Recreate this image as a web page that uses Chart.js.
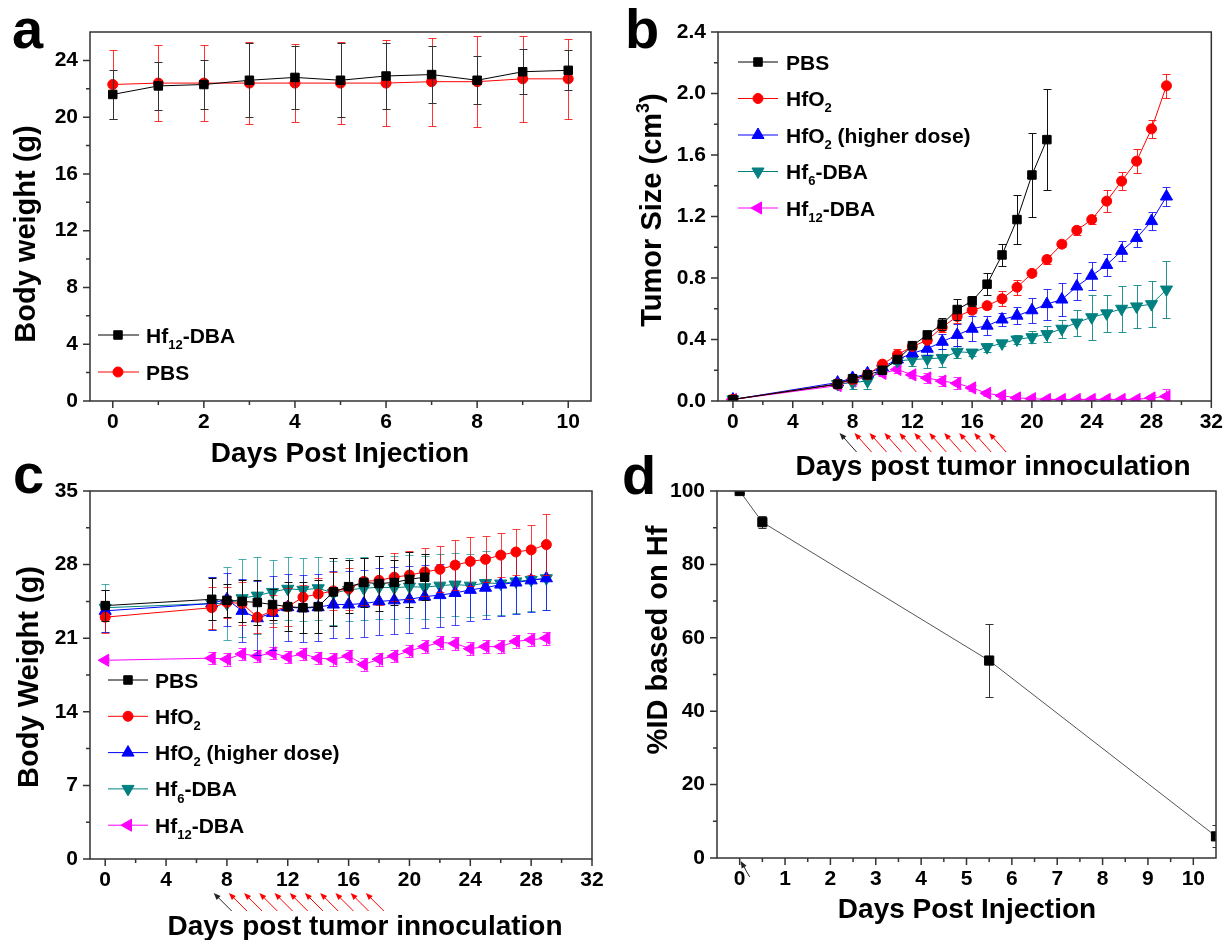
<!DOCTYPE html>
<html>
<head>
<meta charset="utf-8">
<script src="https://cdn.jsdelivr.net/npm/chart.js@4.4.1/dist/chart.umd.min.js"></script>
<style>
  body { margin: 0; background: #fff; }
  #page { position: relative; width: 1232px; height: 940px; overflow: hidden; background: #fff; }
  #page canvas { position: absolute; }
</style>
</head>
<body>
<div id="page">
  <canvas id="chartA" width="616" height="470" style="left:0;top:0"></canvas>
  <canvas id="chartB" width="616" height="485" style="left:616px;top:0"></canvas>
  <canvas id="chartC" width="616" height="485" style="left:0;top:455px"></canvas>
  <canvas id="chartD" width="616" height="485" style="left:616px;top:455px"></canvas>
</div>
<script>
// ---- panel a: body weight after injection
const daysA = [0, 1, 2, 3, 4, 5, 6, 7, 8, 9, 10];
const hf12WeightA = [21.6, 22.2, 22.3, 22.6, 22.8, 22.6, 22.9, 23.0, 22.6, 23.2, 23.3];
const hf12WeightErrA = [1.7, 1.7, 1.7, 2.6, 2.2, 2.6, 2.3, 2.0, 1.7, 1.6, 1.4];
const pbsWeightA = [22.3, 22.4, 22.4, 22.4, 22.4, 22.4, 22.4, 22.5, 22.5, 22.7, 22.7];
const pbsWeightErrA = [2.4, 2.7, 2.7, 2.9, 2.75, 2.9, 3.05, 3.1, 3.2, 3.05, 2.8];
const xTicksA = [0, 2, 4, 6, 8, 10];
const yTicksA = [0, 4, 8, 12, 16, 20, 24];

// ---- panels b and c: days after tumor inoculation
const daysPbs = [0, 7, 8, 9, 10, 11, 12, 13, 14, 15, 16, 17, 18, 19, 20, 21];
const daysTreated = [0, 7, 8, 9, 10, 11, 12, 13, 14, 15, 16, 17, 18, 19, 20, 21, 22, 23, 24, 25, 26, 27, 28, 29];
const imagingDays = [7];
const injectionDays = [8, 9, 10, 11, 12, 13, 14, 15, 16, 17];
const xTicksBC = [0, 4, 8, 12, 16, 20, 24, 28, 32];

// ---- panel b: tumor size (cm3)
const tumorPbs = [0.01, 0.11, 0.145, 0.17, 0.20, 0.27, 0.36, 0.43, 0.50, 0.595, 0.65, 0.76, 0.95, 1.18, 1.47, 1.70];
const tumorPbsErr = [0.01, 0.02, 0.02, 0.02, 0.02, 0.02, 0.02, 0.02, 0.04, 0.07, 0.03, 0.07, 0.07, 0.16, 0.27, 0.33];
const tumorHfO2 = [0.01, 0.11, 0.14, 0.17, 0.24, 0.30, 0.355, 0.395, 0.48, 0.55, 0.59, 0.62, 0.665, 0.74, 0.83, 0.92, 1.02, 1.11, 1.18, 1.30, 1.43, 1.56, 1.77, 2.05];
const tumorHfO2Err = [0.01, 0.02, 0.02, 0.02, 0.02, 0.04, 0.02, 0.02, 0.03, 0.04, 0.02, 0.02, 0.05, 0.05, 0.02, 0.03, 0.02, 0.03, 0.03, 0.07, 0.06, 0.08, 0.06, 0.08];
const tumorHfO2High = [0.01, 0.12, 0.15, 0.18, 0.22, 0.27, 0.31, 0.34, 0.385, 0.43, 0.47, 0.49, 0.53, 0.555, 0.59, 0.63, 0.66, 0.745, 0.815, 0.885, 0.977, 1.06, 1.17, 1.33];
const tumorHfO2HighErr = [0.01, 0.02, 0.02, 0.02, 0.02, 0.02, 0.02, 0.04, 0.05, 0.07, 0.08, 0.06, 0.04, 0.055, 0.08, 0.10, 0.11, 0.09, 0.09, 0.07, 0.065, 0.06, 0.06, 0.06];
const tumorHf6 = [0.01, 0.11, 0.12, 0.13, 0.21, 0.26, 0.27, 0.275, 0.28, 0.32, 0.315, 0.35, 0.375, 0.40, 0.415, 0.435, 0.47, 0.51, 0.545, 0.57, 0.60, 0.615, 0.63, 0.725];
const tumorHf6Err = [0.01, 0.02, 0.04, 0.05, 0.02, 0.02, 0.04, 0.06, 0.06, 0.04, 0.02, 0.03, 0.02, 0.03, 0.04, 0.05, 0.06, 0.085, 0.145, 0.12, 0.15, 0.14, 0.15, 0.185];
const tumorHf12 = [0.01, 0.10, 0.13, 0.16, 0.18, 0.205, 0.17, 0.15, 0.13, 0.115, 0.085, 0.05, 0.035, 0.02, 0.015, 0.01, 0.01, 0.01, 0.01, 0.01, 0.01, 0.01, 0.02, 0.03];
const tumorHf12Err = [0.01, 0.02, 0.02, 0.02, 0.02, 0.02, 0.02, 0.03, 0.03, 0.04, 0.02, 0.02, 0.02, 0.02, 0.01, 0.01, 0.01, 0.01, 0.01, 0.01, 0.01, 0.01, 0.02, 0.05];
const yTicksB = [0, 0.4, 0.8, 1.2, 1.6, 2.0, 2.4];

// ---- panel c: body weight (g)
const weightPbs = [24.1, 24.7, 24.6, 24.5, 24.4, 24.2, 24.0, 23.9, 24.0, 25.4, 25.9, 26.3, 26.2, 26.3, 26.6, 26.8];
const weightPbsErr = [1.5, 2.0, 1.6, 2.0, 2.1, 1.5, 2.3, 2.4, 2.5, 3.2, 2.5, 2.3, 2.6, 2.1, 2.6, 2.2];
const weightHfO2 = [23.0, 23.9, 24.4, 24.3, 23.0, 23.6, 24.0, 24.9, 25.2, 25.5, 25.7, 26.4, 26.5, 26.8, 27.0, 27.3, 27.55, 27.95, 28.3, 28.5, 28.9, 29.2, 29.4, 29.9];
const weightHfO2Err = [1.5, 2.0, 1.5, 2.0, 1.5, 1.5, 1.8, 1.2, 1.5, 1.8, 2.0, 2.2, 2.3, 2.3, 2.3, 2.3, 2.2, 2.35, 2.3, 2.2, 2.1, 2.2, 2.4, 2.9];
const weightHfO2High = [23.6, 24.3, 24.7, 23.6, 22.9, 23.4, 23.95, 23.85, 23.95, 24.2, 24.2, 24.3, 24.5, 24.6, 24.7, 24.95, 25.1, 25.3, 25.6, 25.8, 26.1, 26.3, 26.5, 26.7];
const weightHfO2HighErr = [2.0, 2.5, 2.5, 3.0, 3.5, 3.5, 3.2, 3.2, 3.2, 3.2, 3.2, 3.2, 3.2, 3.2, 3.2, 3.0, 3.0, 3.0, 3.0, 3.0, 3.0, 3.0, 3.0, 3.0];
const weightHf6 = [23.9, 24.3, 24.3, 24.8, 25.05, 25.4, 25.7, 25.6, 25.75, 25.3, 25.6, 25.75, 25.85, 25.8, 25.9, 25.85, 26.0, 26.1, 26.0, 26.25, 26.2, 26.4, 26.55, 26.7];
const weightHf6Err = [2.3, 2.5, 3.5, 3.7, 3.65, 3.0, 3.0, 3.0, 3.0, 3.0, 3.0, 3.0, 3.0, 3.0, 3.0, 3.0, 3.0, 3.0, 3.0, 3.0, 3.0, 3.0, 3.0, 3.0];
const weightHf12 = [18.9, 19.1, 19.0, 19.5, 19.3, 19.6, 19.2, 19.5, 19.1, 19.0, 19.3, 18.5, 19.0, 19.3, 19.8, 20.2, 20.6, 20.5, 20.0, 20.2, 20.2, 20.7, 20.85, 21.0];
const weightHf12Err = [0.2, 0.6, 0.6, 0.6, 0.6, 0.6, 0.6, 0.6, 0.6, 0.6, 0.6, 0.6, 0.6, 0.6, 0.6, 0.6, 0.6, 0.6, 0.6, 0.6, 0.6, 0.6, 0.6, 0.6];
const yTicksC = [0, 7, 14, 21, 28, 35];

// ---- panel d: %ID based on Hf
const daysD = [0, 0.5, 5.5, 10.5];
const idHf = [100, 91.5, 53.8, 5.9];
const idHfErr = [0, 1.6, 10, 3];
const xTicksD = [0, 1, 2, 3, 4, 5, 6, 7, 8, 9, 10];
const yTicksD = [0, 20, 40, 60, 80, 100];

const FONT = '"Liberation Sans", Arial, Helvetica, sans-serif';
Chart.defaults.font.family = FONT;
Chart.defaults.font.weight = 'bold';
Chart.defaults.color = '#000';
Chart.defaults.animation = false;

const BLACK = '#000000', RED = '#ff0000', BLUE = '#0000ff', TEAL = '#008080', MAGENTA = '#ff00ff';
const TICK_SIZE = 21;

const mid = (a) => a.slice(0, -1).map((v, i) => (v + a[i + 1]) / 2);

function series(label, days, values, errors, color, errColor, style, rotation, radius) {
  return {
    label,
    data: days.map((d, i) => ({ x: d, y: values[i] })),
    errors, errorColor: errColor,
    borderColor: color, backgroundColor: color, borderWidth: 1,
    pointStyle: style, pointRotation: rotation, pointRadius: radius,
    pointBackgroundColor: color, pointBorderColor: color, pointBorderWidth: 1,
    tension: 0, fill: false
  };
}

const labPbs = ['PBS'];
const labHfO2 = ['HfO', ['2', 'sub']];
const labHfO2High = ['HfO', ['2', 'sub'], ' (higher dose)'];
const labHf6 = ['Hf', ['6', 'sub'], '-DBA'];
const labHf12 = ['Hf', ['12', 'sub'], '-DBA'];

const legendB = [
  { segs: labPbs, color: BLACK, style: 'rect', rot: 0, r: 6 },
  { segs: labHfO2, color: RED, style: 'circle', rot: 0, r: 5 },
  { segs: labHfO2High, color: BLUE, style: 'triangle', rot: 0, r: 7 },
  { segs: labHf6, color: TEAL, style: 'triangle', rot: 180, r: 7 },
  { segs: labHf12, color: MAGENTA, style: 'triangle', rot: -90, r: 7 }
];

// page coordinates of the decorations, per canvas
const decorCfg = {
  chartA: {
    ox: 0, oy: 0,
    letter: { t: 'a', x: 12, y: 48 },
    xTitle: { segs: ['Days Post Injection'], x: 340, y: 462, size: 28 },
    yTitle: { segs: ['Body weight (g)'], x: 35, y: 234, size: 29 },
    legend: { x0: 98, x1: 139, xm: 118, tx: 146, y0: 335, dy: 37, size: 21, items: [
      { segs: labHf12, color: BLACK, style: 'rect', rot: 0, r: 6 },
      { segs: labPbs, color: RED, style: 'circle', rot: 0, r: 5 }
    ] },
    xMajor: xTicksA, xMinor: mid(xTicksA), yMajor: yTicksA, yMinor: mid(yTicksA)
  },
  chartB: {
    ox: 616, oy: 0,
    letter: { t: 'b', x: 625, y: 48 },
    xTitle: { segs: ['Days post tumor innoculation'], x: 993, y: 475, size: 28 },
    yTitle: { segs: ['Tumor Size (cm', ['3', 'sup'], ')'], x: 661, y: 210, size: 29 },
    legend: { x0: 738, x1: 778, xm: 758, tx: 786, y0: 62, dy: 36.5, size: 21, items: legendB },
    arrows: { tipY: 433, dx: 17, dy: 19 },
    xMajor: xTicksBC, xMinor: mid(xTicksBC), yMajor: yTicksB, yMinor: mid(yTicksB)
  },
  chartC: {
    ox: 0, oy: 455,
    letter: { t: 'c', x: 13, y: 493 },
    xTitle: { segs: ['Days post tumor innoculation'], x: 365, y: 935, size: 28 },
    yTitle: { segs: ['Body Weight (g)'], x: 38, y: 677, size: 29 },
    legend: { x0: 108, x1: 148, xm: 128, tx: 155, y0: 680, dy: 36.3, size: 21, items: legendB },
    arrows: { tipY: 893, dx: 18, dy: 18 },
    xMajor: xTicksBC, xMinor: mid(xTicksBC), yMajor: yTicksC, yMinor: mid(yTicksC)
  },
  chartD: {
    ox: 616, oy: 455,
    letter: { t: 'd', x: 622, y: 494 },
    xTitle: { segs: ['Days Post Injection'], x: 967, y: 918, size: 28 },
    yTitle: { segs: ['%ID based on Hf'], x: 667, y: 640, size: 29 },
    pointer: { day: 0, tipY: 861, dx: 9, dy: 16 },
    xMajor: xTicksD, xMinor: mid(xTicksD), yMajor: yTicksD, yMinor: mid(yTicksD)
  }
};

function font(size) { return 'bold ' + size + 'px ' + FONT; }
function seg(s) { return typeof s === 'string' ? [s, ''] : s; }
function richWidth(ctx, segs, size) {
  let w = 0;
  segs.forEach(s => { const [t, k] = seg(s); ctx.font = font(k ? size * 0.62 : size); w += ctx.measureText(t).width; });
  return w;
}
function drawRich(ctx, segs, x, y, size) {
  let cx = x;
  segs.forEach(s => {
    const [t, k] = seg(s);
    const dy = k === 'sub' ? size * 0.3 : k === 'sup' ? -size * 0.42 : 0;
    ctx.font = font(k ? size * 0.62 : size);
    ctx.fillText(t, cx, y + dy);
    cx += ctx.measureText(t).width;
  });
}
function arrow(ctx, tx, ty, fx, fy, color) {
  const ang = Math.atan2(ty - fy, tx - fx);
  ctx.strokeStyle = color; ctx.fillStyle = color; ctx.lineWidth = 1;
  ctx.beginPath(); ctx.moveTo(fx, fy); ctx.lineTo(tx - 4 * Math.cos(ang), ty - 4 * Math.sin(ang)); ctx.stroke();
  ctx.beginPath();
  ctx.moveTo(tx, ty);
  ctx.lineTo(tx - 7 * Math.cos(ang) + 2.8 * Math.sin(ang), ty - 7 * Math.sin(ang) - 2.8 * Math.cos(ang));
  ctx.lineTo(tx - 7 * Math.cos(ang) - 2.8 * Math.sin(ang), ty - 7 * Math.sin(ang) + 2.8 * Math.cos(ang));
  ctx.closePath(); ctx.fill();
}

const decorPlugin = {
  id: 'decor',
  beforeDatasetDraw(chart, args) {
    const ds = chart.data.datasets[args.index];
    if (!ds.errors) return;
    const { ctx, chartArea: a } = chart;
    const xs = chart.scales.x, ys = chart.scales.y;
    ctx.save();
    ctx.beginPath(); ctx.rect(a.left, a.top, a.right - a.left, a.bottom - a.top); ctx.clip();
    ctx.strokeStyle = ds.errorColor; ctx.lineWidth = 1;
    ds.data.forEach((p, i) => {
      const e = ds.errors[i];
      if (!e) return;
      const px = Math.round(xs.getPixelForValue(p.x)) + 0.5;
      const top = Math.round(ys.getPixelForValue(p.y + e)) + 0.5;
      const bot = Math.round(ys.getPixelForValue(p.y - e)) + 0.5;
      ctx.beginPath();
      ctx.moveTo(px, top); ctx.lineTo(px, bot);
      ctx.moveTo(px - 4, top); ctx.lineTo(px + 4, top);
      ctx.moveTo(px - 4, bot); ctx.lineTo(px + 4, bot);
      ctx.stroke();
    });
    ctx.restore();
  },
  afterDraw(chart) {
    const cfg = decorCfg[chart.canvas.id];
    const { ctx, chartArea: a } = chart;
    const xs = chart.scales.x, ys = chart.scales.y;
    const ox = cfg.ox, oy = cfg.oy;
    ctx.save();
    ctx.textAlign = 'left'; ctx.textBaseline = 'alphabetic';

    // frame and tick marks
    ctx.strokeStyle = '#333'; ctx.lineWidth = 1.5;
    ctx.strokeRect(a.left, a.top, a.right - a.left, a.bottom - a.top);
    ctx.beginPath();
    const xt = (vals, len) => vals.forEach(v => { const p = xs.getPixelForValue(v); ctx.moveTo(p, a.bottom); ctx.lineTo(p, a.bottom + len); });
    const yt = (vals, len) => vals.forEach(v => { const p = ys.getPixelForValue(v); ctx.moveTo(a.left, p); ctx.lineTo(a.left - len, p); });
    xt(cfg.xMajor, 7); xt(cfg.xMinor, 4); yt(cfg.yMajor, 7); yt(cfg.yMinor, 4);
    ctx.stroke();

    ctx.fillStyle = '#000';
    // panel letter
    ctx.font = font(56);
    ctx.fillText(cfg.letter.t, cfg.letter.x - ox, cfg.letter.y - oy);

    // axis titles
    const xtl = cfg.xTitle;
    drawRich(ctx, xtl.segs, xtl.x - ox - richWidth(ctx, xtl.segs, xtl.size) / 2, xtl.y - oy, xtl.size);
    const ytl = cfg.yTitle;
    ctx.save();
    ctx.translate(ytl.x - ox, ytl.y - oy);
    ctx.rotate(-Math.PI / 2);
    drawRich(ctx, ytl.segs, -richWidth(ctx, ytl.segs, ytl.size) / 2, 0, ytl.size);
    ctx.restore();

    // legend
    if (cfg.legend) {
      const L = cfg.legend;
      L.items.forEach((it, i) => {
        const y = L.y0 + i * L.dy - oy;
        ctx.strokeStyle = it.color; ctx.lineWidth = 1;
        ctx.beginPath(); ctx.moveTo(L.x0 - ox, y); ctx.lineTo(L.x1 - ox, y); ctx.stroke();
        ctx.fillStyle = it.color;
        Chart.helpers.drawPoint(ctx, { pointStyle: it.style, rotation: it.rot, radius: it.r, borderWidth: 1 }, L.xm - ox, y);
        ctx.fillStyle = '#000';
        drawRich(ctx, it.segs, L.tx - ox, y + L.size * 0.36, L.size);
      });
    }

    // injection arrows below the day axis
    if (cfg.arrows) {
      const A = cfg.arrows;
      const one = (d, color) => {
        const tx = xs.getPixelForValue(d) + 2, ty = A.tipY - oy;
        arrow(ctx, tx, ty, tx + A.dx, ty + A.dy, color);
      };
      imagingDays.forEach(d => one(d, '#222'));
      injectionDays.forEach(d => one(d, RED));
    }
    if (cfg.pointer) {
      const P = cfg.pointer;
      const tx = xs.getPixelForValue(P.day) + 1, ty = P.tipY - oy;
      arrow(ctx, tx, ty, tx + P.dx, ty + P.dy, '#222');
    }
    ctx.restore();
  }
};

function xAxis(min, max, ticks, fmt) {
  return {
    type: 'linear', min, max,
    afterBuildTicks: s => { s.ticks = ticks.map(v => ({ value: v })); },
    afterFit: s => { s.height = 30; },
    grid: { display: false, drawTicks: false },
    border: { display: false },
    ticks: { padding: 9, color: '#000', font: { size: TICK_SIZE, weight: 'bold' }, maxRotation: 0, autoSkip: false,
             callback: v => fmt ? fmt(v) : String(v) }
  };
}
function yAxis(min, max, ticks, width, fmt) {
  return {
    type: 'linear', min, max,
    afterBuildTicks: s => { s.ticks = ticks.map(v => ({ value: v })); },
    afterFit: s => { s.width = width; },
    grid: { display: false, drawTicks: false },
    border: { display: false },
    ticks: { padding: 12, color: '#000', font: { size: TICK_SIZE, weight: 'bold' }, autoSkip: false,
             callback: v => fmt ? fmt(v) : String(v) }
  };
}
function makeChart(id, datasets, scales, padding) {
  return new Chart(document.getElementById(id), {
    type: 'line',
    data: { datasets },
    options: {
      responsive: false,
      animation: false,
      layout: { padding, autoPadding: false },
      plugins: { legend: { display: false }, tooltip: { enabled: false } },
      scales
    },
    plugins: [decorPlugin]
  });
}

makeChart('chartA', [
  series('Hf12-DBA', daysA, hf12WeightA, hf12WeightErrA, BLACK, '#333', 'rect', 0, 6),
  series('PBS', daysA, pbsWeightA, pbsWeightErrA, RED, 'rgba(255,0,0,0.8)', 'circle', 0, 5)
], {
  x: xAxis(-0.5, 10.5, xTicksA),
  y: yAxis(0, 26, yTicksA, 90)
}, { left: 0, top: 32, right: 25, bottom: 39 });

makeChart('chartB', [
  series('PBS', daysPbs, tumorPbs, tumorPbsErr, BLACK, '#111', 'rect', 0, 6),
  series('HfO2', daysTreated, tumorHfO2, tumorHfO2Err, RED, 'rgba(255,0,0,0.85)', 'circle', 0, 5),
  series('HfO2 (higher dose)', daysTreated, tumorHfO2High, tumorHfO2HighErr, BLUE, 'rgba(0,0,255,0.8)', 'triangle', 0, 7),
  series('Hf6-DBA', daysTreated, tumorHf6, tumorHf6Err, TEAL, 'rgba(0,128,128,0.85)', 'triangle', 180, 7),
  series('Hf12-DBA', daysTreated, tumorHf12, tumorHf12Err, MAGENTA, 'rgba(255,0,255,0.8)', 'triangle', -90, 7)
], {
  x: xAxis(-1, 32, xTicksBC),
  y: yAxis(0, 2.4, yTicksB, 102, v => v.toFixed(1))
}, { left: 0, top: 32, right: 13, bottom: 54 });

makeChart('chartC', [
  series('PBS', daysPbs, weightPbs, weightPbsErr, BLACK, '#111', 'rect', 0, 6),
  series('HfO2', daysTreated, weightHfO2, weightHfO2Err, RED, 'rgba(255,0,0,0.75)', 'circle', 0, 5),
  series('HfO2 (higher dose)', daysTreated, weightHfO2High, weightHfO2HighErr, BLUE, 'rgba(0,0,255,0.7)', 'triangle', 0, 7),
  series('Hf6-DBA', daysTreated, weightHf6, weightHf6Err, TEAL, 'rgba(0,140,140,0.7)', 'triangle', 180, 7),
  series('Hf12-DBA', daysTreated, weightHf12, weightHf12Err, MAGENTA, 'rgba(255,0,255,0.8)', 'triangle', -90, 7)
], {
  x: xAxis(-1, 32, xTicksBC),
  y: yAxis(0, 35, yTicksC, 90)
}, { left: 0, top: 36, right: 24, bottom: 51 });

makeChart('chartD', [
  Object.assign(series('%ID', daysD, idHf, idHfErr, BLACK, '#333', 'rect', 0, 6.5), { borderColor: '#555' })
], {
  x: xAxis(-0.5, 10.5, xTicksD),
  y: yAxis(0, 100, yTicksD, 101)
}, { left: 0, top: 36, right: 16, bottom: 52 });
</script>
</body>
</html>
